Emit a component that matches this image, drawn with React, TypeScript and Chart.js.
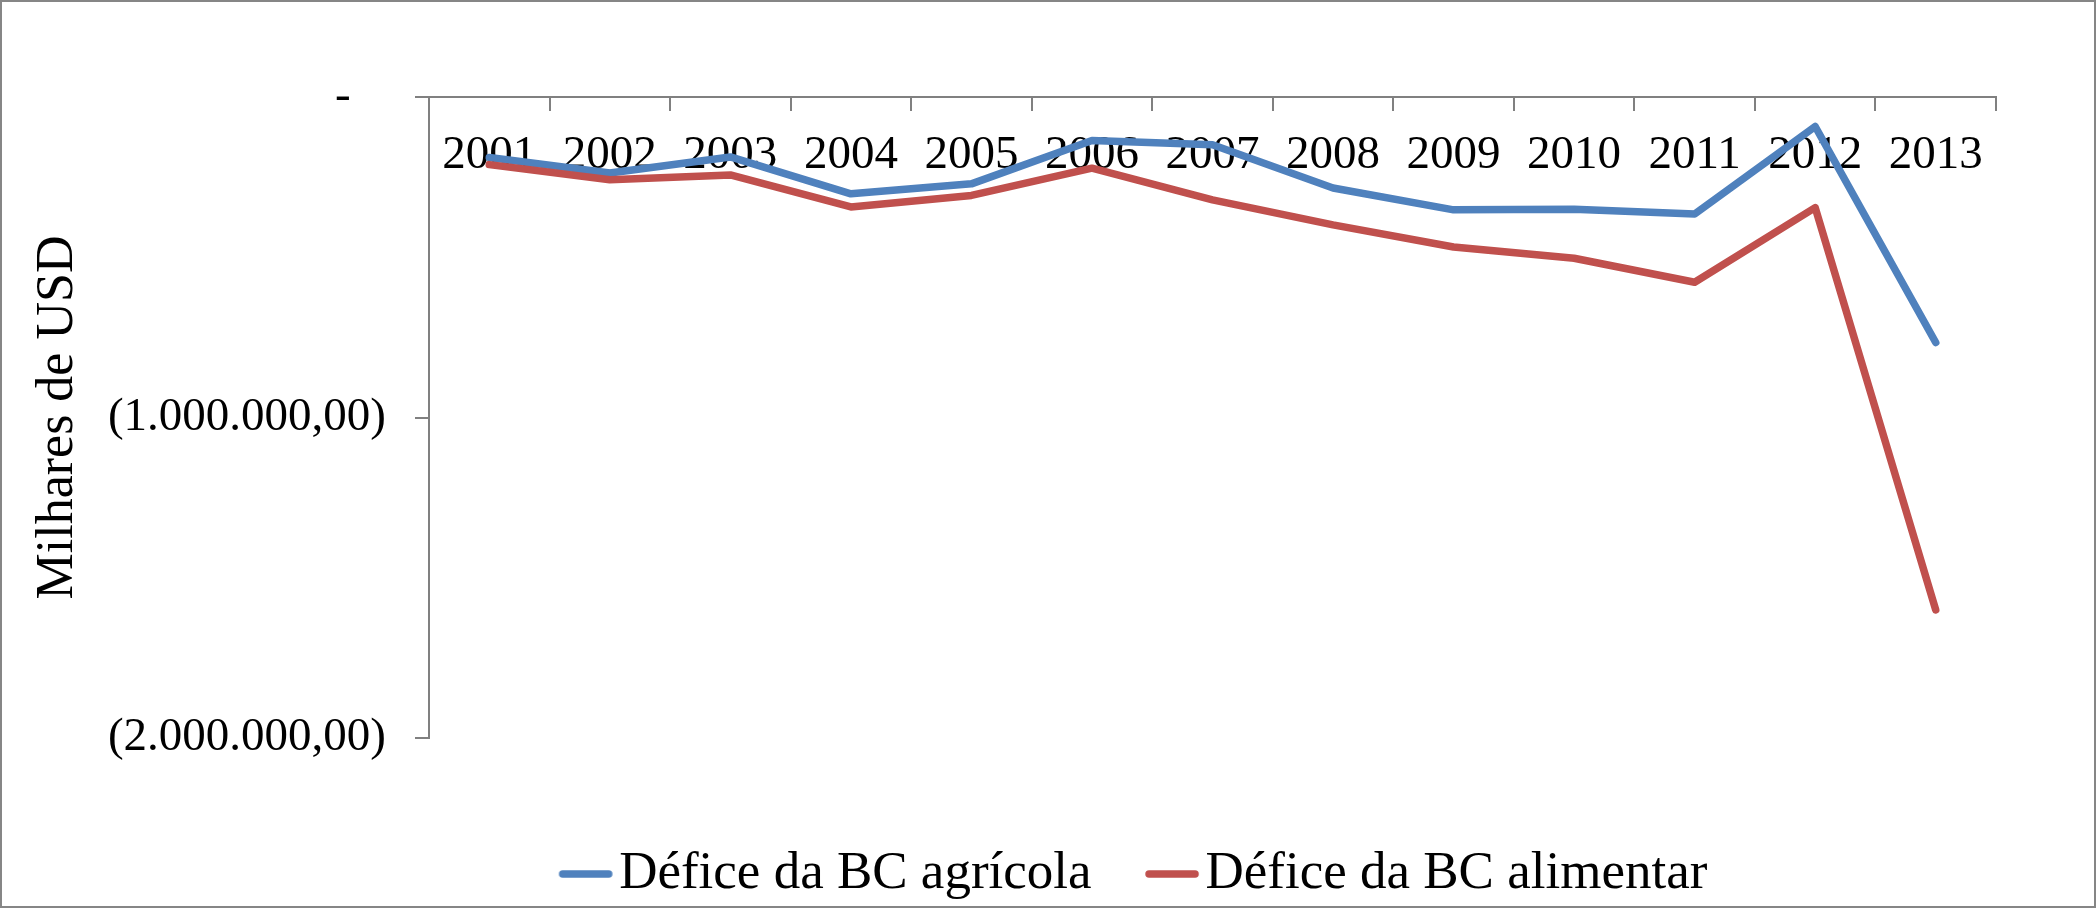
import React, { useEffect, useRef } from 'react';
import { Chart, registerables } from 'chart.js';

Chart.register(...registerables);

const years = ['2001', '2002', '2003', '2004', '2005', '2006', '2007', '2008', '2009', '2010', '2011', '2012', '2013'];
const agricola = [-189000, -237000, -187000, -302000, -271000, -136000, -149000, -284000, -352000, -350000, -365000, -92000, -766000];
const alimentar = [-211000, -258000, -243000, -343000, -307000, -222000, -321000, -399000, -468000, -503000, -578000, -345000, -1600000];
const yTickValues = [-2000000, -1000000, 0];
const yTickLabels = ['(2.000.000,00)', '(1.000.000,00)', '-   '];
const seriesNames = ['Défice da BC agrícola', 'Défice da BC alimentar'];
const seriesColors = ['#4F81BD', '#C0504D'];
const yTitle = 'Milhares de USD';

const FONT = "'Liberation Serif', 'Times New Roman', Times, serif";
const AXIS = '#808080';
const LINE_W = 7.5;

function makeSwatch(color: string) {
  const c = document.createElement('canvas');
  c.width = 80;
  c.height = 14;
  const g = c.getContext('2d')!;
  g.strokeStyle = color;
  g.lineWidth = LINE_W;
  g.lineCap = 'round';
  g.beginPath();
  g.moveTo(25, 7);
  g.lineTo(71, 7);
  g.stroke();
  return c;
}

// shifts the centred legend row so it sits under the plot like in the source
const legendShift = {
  id: 'legendShift',
  afterLayout(chart: any) {
    const lg = chart.legend;
    if (lg) {
      lg.left += 136;
      lg.right += 136;
    }
  },
};

export default function App() {
  const ref = useRef<HTMLCanvasElement>(null);
  useEffect(() => {
    document.body.style.margin = '0';
    document.body.style.overflow = 'hidden';
    const chart = new Chart(ref.current!, {
      type: 'line',
      data: {
        labels: years,
        datasets: [
          {
            label: seriesNames[0],
            data: agricola,
            borderColor: seriesColors[0],
            backgroundColor: seriesColors[0],
            borderWidth: LINE_W,
            pointRadius: 0,
            pointStyle: makeSwatch(seriesColors[0]) as any,
            tension: 0,
            borderCapStyle: 'round',
            borderJoinStyle: 'round',
            order: 1,
          },
          {
            label: seriesNames[1],
            data: alimentar,
            borderColor: seriesColors[1],
            backgroundColor: seriesColors[1],
            borderWidth: LINE_W,
            pointRadius: 0,
            pointStyle: makeSwatch(seriesColors[1]) as any,
            tension: 0,
            borderCapStyle: 'round',
            borderJoinStyle: 'round',
            order: 0,
          },
        ],
      },
      options: {
        responsive: false,
        animation: false,
        devicePixelRatio: 1,
        layout: { padding: { left: 0, right: 98, top: 95, bottom: 3.5 } },
        plugins: {
          tooltip: { enabled: false },
          legend: {
            position: 'bottom',
            align: 'center',
            title: { display: true, text: ' ', padding: { top: 50.8, bottom: 0 }, font: { size: 1 } },
            labels: {
              usePointStyle: true,
              pointStyleWidth: 30,
              padding: 57.5,
              color: '#000',
              font: { family: FONT, size: 53 },
              sort: (a: any, b: any) => a.datasetIndex - b.datasetIndex,
            },
          },
        },
        scales: {
          x: {
            type: 'category',
            position: 'top',
            offset: true,
            afterFit: (s: any) => {
              s.height = 0;
            },
            grid: {
              display: true,
              offset: true,
              drawOnChartArea: false,
              drawTicks: true,
              tickLength: -14,
              color: AXIS,
              lineWidth: 2,
            },
            border: { display: true, color: AXIS, width: 2 },
            ticks: {
              mirror: true,
              padding: 30,
              autoSkip: false,
              maxRotation: 0,
              minRotation: 0,
              color: '#000',
              font: { family: FONT, size: 47 },
            },
          },
          y: {
            type: 'linear',
            position: 'left',
            min: -2000000,
            max: 0,
            afterFit: (s: any) => {
              s.width = 427;
            },
            afterBuildTicks: (s: any) => {
              s.ticks = yTickValues.map((v) => ({ value: v }));
            },
            grid: {
              drawOnChartArea: false,
              drawTicks: true,
              tickLength: 14,
              color: AXIS,
              lineWidth: 2,
            },
            border: { display: true, color: AXIS, width: 2 },
            ticks: {
              padding: 29,
              color: '#000',
              font: { family: FONT, size: 47 },
              callback: (v: any) => {
                const i = yTickValues.indexOf(Number(v));
                return i >= 0 ? yTickLabels[i] : '';
              },
            },
            title: {
              display: true,
              text: yTitle,
              color: '#000',
              font: { family: FONT, size: 52 },
              padding: { top: 25, bottom: 0 },
            },
          },
        },
      },
      plugins: [legendShift],
    } as any);
    return () => chart.destroy();
  }, []);
  return (
    <div
      style={{
        width: 2096,
        height: 908,
        boxSizing: 'border-box',
        border: '2px solid #868686',
        overflow: 'hidden',
        background: '#fff',
      }}
    >
      <canvas ref={ref} width={2092} height={912} style={{ display: 'block' }} />
    </div>
  );
}
